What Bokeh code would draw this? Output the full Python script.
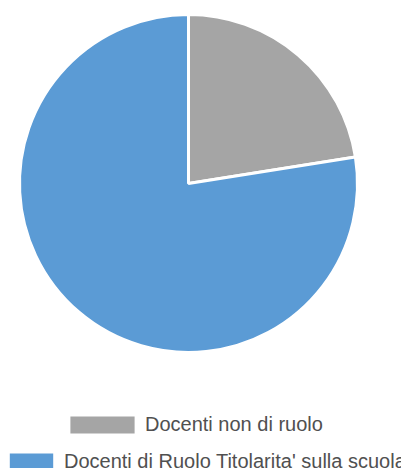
import numpy as np
from bokeh.plotting import figure
from bokeh.models import ColumnDataSource, Range1d, Legend, LegendItem
from bokeh.embed import file_html
from bokeh.resources import INLINE

# Data
categories = ["Docenti non di ruolo", "Docenti di Ruolo Titolarita' sulla scuola"]
values = [9, 31]
colors = ["#A5A5A5", "#5B9BD5"]

W, H = 401, 468
vals = np.array(values, dtype=float)
frac = vals / vals.sum()
cum = np.concatenate([[0.0], np.cumsum(frac)])
start = np.pi / 2 - 2 * np.pi * cum[:-1]
end = np.pi / 2 - 2 * np.pi * cum[1:]

src = ColumnDataSource(dict(cat=categories, val=values, start=start, end=end, color=colors))

p = figure(width=W, height=H, output_backend="svg", toolbar_location=None,
           x_range=Range1d(0, W), y_range=Range1d(0, H), min_border=0)
p.axis.visible = False
p.grid.visible = False
p.outline_line_color = None
p.background_fill_color = "white"
p.border_fill_color = "white"

cx, cy, R = 188, H - 183, 169
r = p.wedge(x=cx, y=cy, radius=R, start_angle="start", end_angle="end", direction="clock",
            fill_color="color", line_color="white", line_width=3, source=src)

def make_legend(idx, loc, gw, standoff):
    return Legend(items=[LegendItem(label=categories[idx], renderers=[r], index=idx)],
                  location=loc, orientation="vertical", padding=0, margin=0, spacing=0,
                  border_line_alpha=0, background_fill_alpha=0,
                  glyph_width=gw, glyph_height=25, label_standoff=standoff,
                  label_text_font="Liberation Sans", label_text_font_size="20px",
                  label_text_color="#505050", label_height=25)

p.add_layout(make_legend(0, (60, 31), 84, 1), "center")
p.add_layout(make_legend(1, (2, -6), 58, 4), "center")

open("out.html", "w").write(file_html(p, INLINE))
